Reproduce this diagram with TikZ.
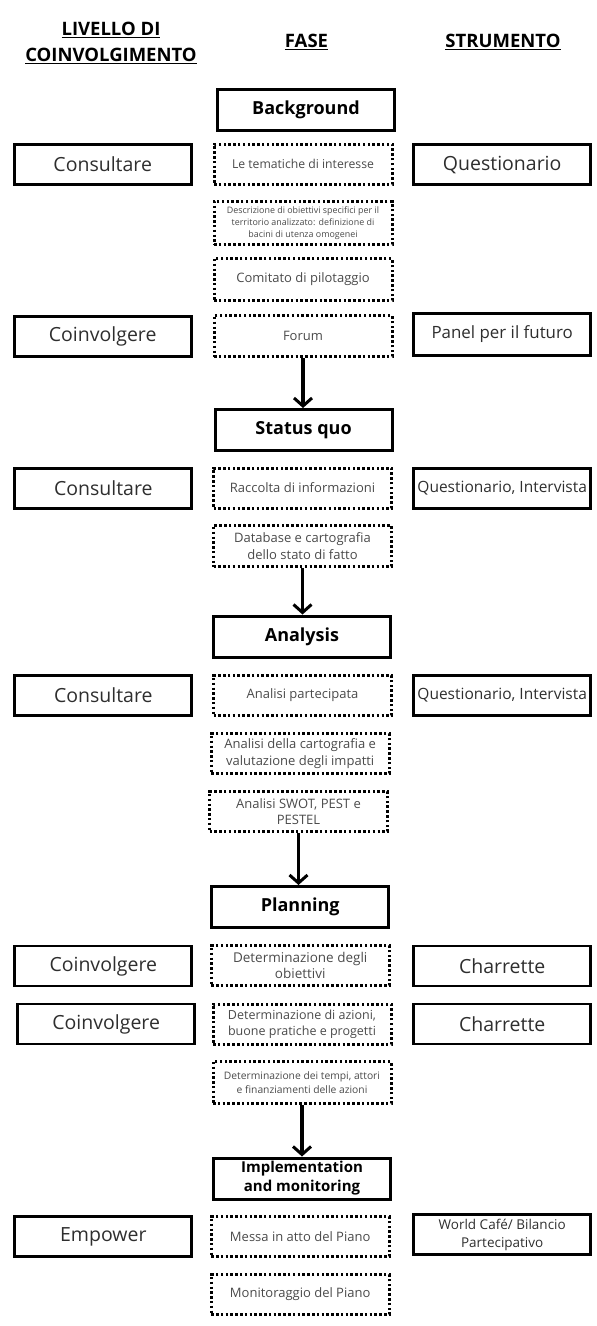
\documentclass[tikz,border=0pt]{standalone}
\usepackage{fontspec}
\setmainfont{Open Sans}
\usetikzlibrary{arrows.meta}
\definecolor{sidetext}{HTML}{2E2E2E}
\definecolor{dottext}{HTML}{4A4A4A}
\tikzset{
  hdr/.style={font=\bfseries\fontsize{18.5}{26}\selectfont, align=center, inner sep=0pt},
  phase/.style={draw, line width=3pt, minimum width=177pt, minimum height=41pt, inner sep=0pt,
     align=center, font=\bfseries\fontsize{18}{20}\selectfont},
  side/.style={draw, line width=2.8pt, minimum width=177pt, minimum height=40pt, inner sep=0pt,
     align=center, text=sidetext, font=\fontsize{19.5}{22}\selectfont},
  dotbox/.style={draw, line width=3pt, dash pattern=on 2.5pt off 2.3pt, minimum width=178pt,
     minimum height=40pt, inner sep=0pt, align=center, text=dottext, font=\fontsize{13}{16.5}\selectfont},
  flow/.style={line width=3.2pt, -{Straight Barb[length=8pt,width=18pt,line width=3pt]}}
}
\begin{document}
\begin{tikzpicture}[x=1pt,y=-1pt]
\useasboundingbox (0,0) rectangle (597,1326);
% headers
\node[hdr] (h1) at (111,43) {\underline{LIVELLO DI}\\\underline{COINVOLGIMENTO}};
\node[hdr] (h2) at (306.5,42) {\underline{FASE}};
\node[hdr] (h3) at (503,42) {\underline{STRUMENTO}};

% Background
\node[phase] (bg) at (306,110) {Background};
\node[side] (l1) at (102.7,164.5) {Consultare};
\node[dotbox, font=\fontsize{12.2}{16}\selectfont] (f1) at (303,164) {Le tematiche di interesse};
\node[side] (r1) at (502.2,164.5) {Questionario};
\node[dotbox, minimum height=43pt, font=\fontsize{8.9}{12.3}\selectfont] (f2) at (303,223) {Descrizione di obiettivi specifici per il\\territorio analizzato: definizione di\\bacini di utenza omogenei};
\node[dotbox, minimum height=42pt] (f3) at (303,279.5) {Comitato di pilotaggio};
\node[side] (l2) at (102.7,336.5) {Coinvolgere};
\node[dotbox, minimum height=41pt] (f4) at (303,336) {Forum};
\node[side, minimum height=42pt, font=\fontsize{16.9}{20}\selectfont] (r2) at (502.2,334.5) {Panel per il futuro};

% Status quo
\node[phase] (sq) at (303.6,430) {Status quo};
\node[side] (l3) at (103.3,488.5) {Consultare};
\node[dotbox] (f5) at (302.5,488) {Raccolta di informazioni};
\node[side, font=\fontsize{15.5}{18}\selectfont] (r3) at (502.2,488.5) {Questionario, Intervista};
\node[dotbox, minimum height=41pt] (f6) at (302.5,546) {Database e cartografia\\dello stato di fatto};

% Analysis
\node[phase] (an) at (302,636.5) {Analysis};
\node[side] (l4) at (103.3,695.5) {Consultare};
\node[dotbox] (f7) at (302.5,695.5) {Analisi partecipata};
\node[side, font=\fontsize{15.5}{18}\selectfont] (r4) at (502.2,695.5) {Questionario, Intervista};
\node[dotbox] (f8) at (300.2,753.5) {Analisi della cartografia e\\valutazione degli impatti};
\node[dotbox] (f9) at (298.5,811.5) {Analisi SWOT, PEST e\\PESTEL};

% Planning
\node[phase] (pl) at (300.2,907) {Planning};
\node[side] (l5) at (103.3,966) {Coinvolgere};
\node[dotbox, font=\fontsize{13.5}{16.5}\selectfont] (f10) at (300.2,965.5) {Determinazione degli\\obiettivi};
\node[side] (r5) at (502.2,966) {Charrette};
\node[side] (l6) at (106.2,1024) {Coinvolgere};
\node[dotbox, font=\fontsize{12.5}{16.5}\selectfont] (f11) at (302,1024) {Determinazione di azioni,\\buone pratiche e progetti};
\node[side] (r6) at (502.2,1024) {Charrette};
\node[dotbox, minimum height=42pt, font=\fontsize{10.3}{14.5}\selectfont] (f12) at (302,1082.5) {Determinazione dei tempi, attori\\e finanziamenti delle azioni};

% Implementation
\node[phase, font=\bfseries\fontsize{15}{19}\selectfont] (im) at (302,1178.5) {Implementation\\and monitoring};
\node[side] (l7) at (103.3,1236.5) {Empower};
\node[dotbox] (f13) at (300.2,1236.5) {Messa in atto del Piano};
\node[side, font=\fontsize{13.5}{18}\selectfont] (r7) at (502.2,1234.5) {World Café/ Bilancio\\Partecipativo};
\node[dotbox] (f14) at (300.2,1294.5) {Monitoraggio del Piano};

% arrows
\draw[flow] (f4.south) -- (f4.south |- sq.north);
\draw[flow] (f6.south) -- (f6.south |- an.north);
\draw[flow] (f9.south) -- (f9.south |- pl.north);
\draw[flow] (f12.south) -- (f12.south |- im.north);
\end{tikzpicture}
\end{document}
